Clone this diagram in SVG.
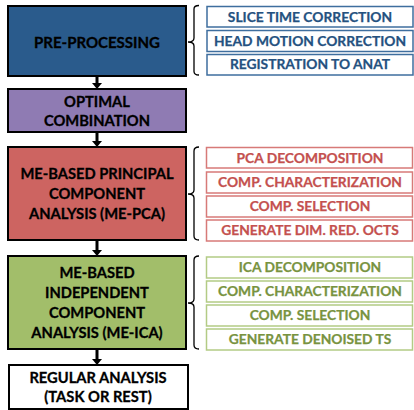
<svg xmlns="http://www.w3.org/2000/svg" width="414" height="410" viewBox="0 0 414 410">
<defs>
<style>
.main{stroke:#000;stroke-width:2}
.mt{font-family:Lato,"Liberation Sans",sans-serif;font-weight:bold;font-size:14.7px;fill:#000;stroke:#000;stroke-width:0.3;text-anchor:middle}
.st{font-family:Lato,"Liberation Sans",sans-serif;font-weight:bold;font-size:13.8px;stroke-width:0.25;text-anchor:middle}
.sub{fill:#fff;stroke-width:1.5}
.blue .sub{stroke:#3E6E9E}.blue .st{fill:#24517F;stroke:#24517F}
.red .sub{stroke:#D77A78}.red .st{fill:#C4504E;stroke:#C4504E}
.green .sub{stroke:#B3CB85}.green .st{fill:#78933F;stroke:#78933F}
.brace{fill:none;stroke:#000;stroke-width:1.3}
.shaft{stroke:#000;stroke-width:3}
</style>
</defs>
<g id="connectors">
<line class="shaft" x1="97" y1="76" x2="97" y2="83"/><path d="M92,83 L102,83 L97,89 Z"/>
<line class="shaft" x1="97" y1="133" x2="97" y2="141"/><path d="M92,141 L102,141 L97,147 Z"/>
<line class="shaft" x1="97" y1="241" x2="97" y2="250"/><path d="M92,250 L102,250 L97,256 Z"/>
<line class="shaft" x1="97" y1="350" x2="97" y2="359"/><path d="M92,359 L102,359 L97,365 Z"/>
<path class="brace" d="M199,5.5 Q194,5.5 194,9 L194,38 Q194,42 188,42 Q194,42 194,46 L194,71.5 Q194,75 199,75"/>
<path class="brace" d="M199,147 Q194,147 194,151 L194,190 Q194,194 188,194 Q194,194 194,198 L194,236 Q194,240 199,240"/>
<path class="brace" d="M199,256 Q194,256 194,260 L194,299 Q194,303 188,303 Q194,303 194,307 L194,345 Q194,349 199,349"/>
</g>
<g id="pre-processing">
<rect class="main" x="8" y="6" width="178" height="70" fill="#2A5B8C"/>
<text class="mt" x="97" y="47.5" style="font-size:15px">PRE-PROCESSING</text>
</g>
<g id="optimal-combination">
<rect class="main" x="8" y="89" width="178" height="43" fill="#8F7BB3"/>
<text class="mt" x="97" y="106.5">OPTIMAL</text>
<text class="mt" x="97" y="126">COMBINATION</text>
</g>
<g id="me-pca">
<rect class="main" x="8" y="147" width="178" height="93" fill="#CD6461"/>
<text class="mt" x="97" y="179">ME-BASED PRINCIPAL</text>
<text class="mt" x="97" y="199">COMPONENT</text>
<text class="mt" x="97" y="219">ANALYSIS (ME-PCA)</text>
</g>
<g id="me-ica">
<rect class="main" x="8" y="256" width="178" height="93" fill="#A2BE6A"/>
<text class="mt" x="97" y="278">ME-BASED</text>
<text class="mt" x="97" y="298">INDEPENDENT</text>
<text class="mt" x="97" y="318">COMPONENT</text>
<text class="mt" x="97" y="338">ANALYSIS (ME-ICA)</text>
</g>
<g id="regular-analysis">
<rect class="main" x="9" y="365" width="179" height="44" fill="#fff"/>
<text class="mt" x="98" y="383">REGULAR ANALYSIS</text>
<text class="mt" x="98" y="401.5">(TASK OR REST)</text>
</g>
<g id="pre-steps" class="blue">
<g id="slice-time"><rect class="sub" x="207" y="6.5" width="206" height="20.5"/><text class="st" x="310" y="22">SLICE TIME CORRECTION</text></g>
<g id="head-motion"><rect class="sub" x="207" y="30.5" width="206" height="21"/><text class="st" x="310" y="45.5">HEAD MOTION CORRECTION</text></g>
<g id="registration"><rect class="sub" x="207" y="54.5" width="206" height="20.5"/><text class="st" x="310" y="69">REGISTRATION TO ANAT</text></g>
</g>
<g id="pca-steps" class="red">
<g id="pca-decomp"><rect class="sub" x="206.5" y="147.5" width="206" height="20.5"/><text class="st" x="310" y="163">PCA DECOMPOSITION</text></g>
<g id="pca-char"><rect class="sub" x="206.5" y="172" width="206" height="21"/><text class="st" x="310" y="187">COMP. CHARACTERIZATION</text></g>
<g id="pca-sel"><rect class="sub" x="206.5" y="196" width="206" height="21"/><text class="st" x="310" y="211">COMP. SELECTION</text></g>
<g id="pca-gen"><rect class="sub" x="206.5" y="220" width="206" height="21"/><text class="st" x="310" y="235">GENERATE DIM. RED. OCTS</text></g>
</g>
<g id="ica-steps" class="green">
<g id="ica-decomp"><rect class="sub" x="206.5" y="257" width="206" height="21"/><text class="st" x="310" y="272">ICA DECOMPOSITION</text></g>
<g id="ica-char"><rect class="sub" x="206.5" y="281" width="206" height="21"/><text class="st" x="310" y="296">COMP. CHARACTERIZATION</text></g>
<g id="ica-sel"><rect class="sub" x="206.5" y="305" width="206" height="21"/><text class="st" x="310" y="320">COMP. SELECTION</text></g>
<g id="ica-gen"><rect class="sub" x="206.5" y="329" width="206" height="21"/><text class="st" x="310" y="344">GENERATE DENOISED TS</text></g>
</g>
</svg>
